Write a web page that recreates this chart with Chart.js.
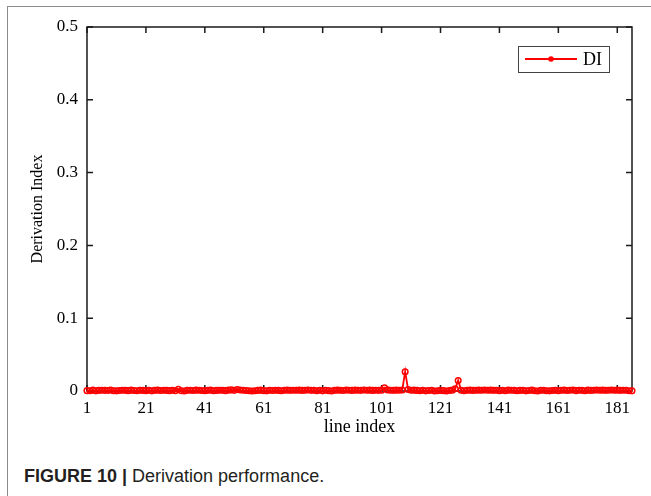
<!DOCTYPE html>
<html>
<head>
<meta charset="utf-8">
<script src="https://cdn.jsdelivr.net/npm/chart.js@4.4.1/dist/chart.umd.min.js"></script>
<style>
  html, body { margin: 0; padding: 0; background: #fff; }
  body { width: 651px; height: 496px; position: relative; overflow: hidden; }
  #frame { position: absolute; left: 7px; top: 6px; width: 660px; height: 500px;
           border-left: 1.5px solid #8c8c8c; border-top: 1.5px solid #8c8c8c; }
  #myChart { position: absolute; left: 0; top: 0; }
  #caption { position: absolute; left: 24px; top: 466px; white-space: nowrap;
             font: 18px "Liberation Sans", Arial, sans-serif; color: #231f20; }
</style>
</head>
<body>
<div id="frame"></div>
<canvas id="myChart" width="651" height="445"></canvas>
<div id="caption"><b>FIGURE 10 |</b> Derivation performance.</div>
<script>
// valores do DI por linha (1..186)
const diValues = [
	0.0005, 0.0003, 0.0012, 0.0002, 0.0008, 0.0011, 0.0009, 0.0006, 0.0013, 0.0004,
	0.0002, 0.0007, 0.0010, 0.0009, 0.0005, 0.0012, 0.0006, 0.0003, 0.0011, 0.0008,
	0.0004, 0.0010, 0.0002, 0.0009, 0.0012, 0.0007, 0.0011, 0.0008, 0.0005, 0.0010,
	0.0004, 0.0025, 0.0003, 0.0001, 0.0009, 0.0011, 0.0006, 0.0012, 0.0010, 0.0007,
	0.0004, 0.0009, 0.0012, 0.0003, 0.0008, 0.0011, 0.0010, 0.0005, 0.0012, 0.0015,
	0.0009, 0.0020, 0.0013, 0.0010, 0.0006, 0.0004, 0.0001, 0.0003, 0.0008, 0.0012,
	0.0005, 0.0002, 0.0010, 0.0006, 0.0011, 0.0008, 0.0003, 0.0010, 0.0012, 0.0009,
	0.0011, 0.0010, 0.0012, 0.0008, 0.0011, 0.0013, 0.0009, 0.0010, 0.0004, 0.0011,
	0.0002, 0.0010, 0.0005, 0.0001, 0.0009, 0.0012, 0.0011, 0.0006, 0.0013, 0.0010,
	0.0008, 0.0012, 0.0011, 0.0009, 0.0013, 0.0010, 0.0012, 0.0008, 0.0011, 0.0009,
	0.0012, 0.0045, 0.0015, 0.0011, 0.0009, 0.0012, 0.0010, 0.0013, 0.0265, 0.0020,
	0.0010, 0.0012, 0.0008, 0.0003, 0.0010, 0.0002, 0.0006, 0.0011, 0.0001, 0.0004,
	0.0009, 0.0005, 0.0000, 0.0006, 0.0012, 0.0030, 0.0145, 0.0010, 0.0003, 0.0011,
	0.0012, 0.0008, 0.0011, 0.0012, 0.0010, 0.0013, 0.0011, 0.0012, 0.0009, 0.0011,
	0.0005, 0.0010, 0.0004, 0.0012, 0.0010, 0.0009, 0.0003, 0.0008, 0.0011, 0.0002,
	0.0006, 0.0012, 0.0004, 0.0001, 0.0009, 0.0011, 0.0004, 0.0002, 0.0007, 0.0011,
	0.0003, 0.0010, 0.0012, 0.0006, 0.0011, 0.0013, 0.0005, 0.0010, 0.0009, 0.0004,
	0.0012, 0.0008, 0.0011, 0.0013, 0.0010, 0.0012, 0.0009, 0.0011, 0.0013, 0.0010,
	0.0012, 0.0009, 0.0011, 0.0010, 0.0004, 0.0002
];
const xTickLabels = [1, 21, 41, 61, 81, 101, 121, 141, 161, 181];
const yTickLabels = [0, 0.1, 0.2, 0.3, 0.4, 0.5];
const seriesName = "DI";

const lineIndex = diValues.map((_, i) => i + 1);
const serif = "'Liberation Serif', 'Times New Roman', serif";
const RED = "#ff0000";

// caixa do eixo estilo MATLAB, com ticks para dentro
const caixaEixos = {
	id: "caixaEixos",
	beforeDatasetsDraw(chart) {
		const { ctx, chartArea: a, scales: { x, y } } = chart;
		const tl = 6;
		ctx.save();
		ctx.strokeStyle = "#1a1a1a";
		ctx.lineWidth = 1.5;
		ctx.strokeRect(a.left, a.top, a.right - a.left, a.bottom - a.top);
		ctx.beginPath();
		for (const v of xTickLabels) {
			const px = x.getPixelForValue(v);
			ctx.moveTo(px, a.bottom); ctx.lineTo(px, a.bottom - tl);
			ctx.moveTo(px, a.top); ctx.lineTo(px, a.top + tl);
		}
		for (const v of yTickLabels) {
			const py = y.getPixelForValue(v);
			ctx.moveTo(a.left, py); ctx.lineTo(a.left + tl, py);
			ctx.moveTo(a.right, py); ctx.lineTo(a.right - tl, py);
		}
		ctx.stroke();
		ctx.restore();
	},
	afterDraw(chart) {
		// legenda dentro do grÃ¡fico (canto superior direito)
		const { ctx, chartArea: a } = chart;
		const w = 91, h = 26;
		const bx = a.right - 23 - w, by = a.top + 19;
		ctx.save();
		ctx.fillStyle = "#fff";
		ctx.fillRect(bx, by, w, h);
		ctx.strokeStyle = "#444";
		ctx.lineWidth = 1;
		ctx.strokeRect(bx + 0.5, by + 0.5, w, h);
		const cy = by + h / 2;
		ctx.strokeStyle = RED;
		ctx.lineWidth = 1.8;
		ctx.beginPath();
		ctx.moveTo(bx + 7, cy); ctx.lineTo(bx + 59, cy);
		ctx.stroke();
		ctx.fillStyle = RED;
		ctx.beginPath();
		ctx.arc(bx + 33, cy, 2.8, 0, Math.PI * 2);
		ctx.fill();
		ctx.fillStyle = "#000";
		ctx.font = "18px " + serif;
		ctx.textBaseline = "middle";
		ctx.fillText(seriesName, bx + 65, cy + 1);
		ctx.restore();
	},
};

new Chart(document.getElementById("myChart"), {
	type: "line",
	data: {
		datasets: [
			{
				label: seriesName,
				data: lineIndex.map((x, i) => ({ x, y: diValues[i] })),
				borderColor: RED,
				borderWidth: 1.8,
				pointRadius: 2.8,
				pointBorderWidth: 1.5,
				pointBorderColor: RED,
				pointBackgroundColor: "rgba(0,0,0,0)",
				tension: 0,
				clip: false,
			},
		],
	},
	options: {
		responsive: false,
		animation: false,
		layout: { padding: { left: 0, right: 19, top: 27, bottom: 0 } },
		plugins: { legend: { display: false }, tooltip: { enabled: false } },
		scales: {
			x: {
				type: "linear",
				min: 1,
				max: 186,
				grid: { display: false, drawTicks: false },
				border: { display: false },
				afterBuildTicks: (s) => { s.ticks = xTickLabels.map((v) => ({ value: v })); },
				afterFit: (s) => { s.height = 54; },
				ticks: { font: { family: serif, size: 17 }, color: "#000", padding: 7, maxRotation: 0 },
				title: { display: true, text: "line index", font: { family: serif, size: 18 }, color: "#000", padding: { top: 0, bottom: 7 } },
			},
			y: {
				type: "linear",
				min: 0,
				max: 0.5,
				grid: { display: false, drawTicks: false },
				border: { display: false },
				afterBuildTicks: (s) => { s.ticks = yTickLabels.map((v) => ({ value: v })); },
				afterFit: (s) => { s.width = 87; },
				ticks: { font: { family: serif, size: 17 }, color: "#000", padding: 9 },
				title: { display: true, text: "Derivation Index", font: { family: serif, size: 16 }, color: "#000", padding: { top: 28, bottom: 0 } },
			},
		},
	},
	plugins: [caixaEixos],
});
</script>
</body>
</html>
